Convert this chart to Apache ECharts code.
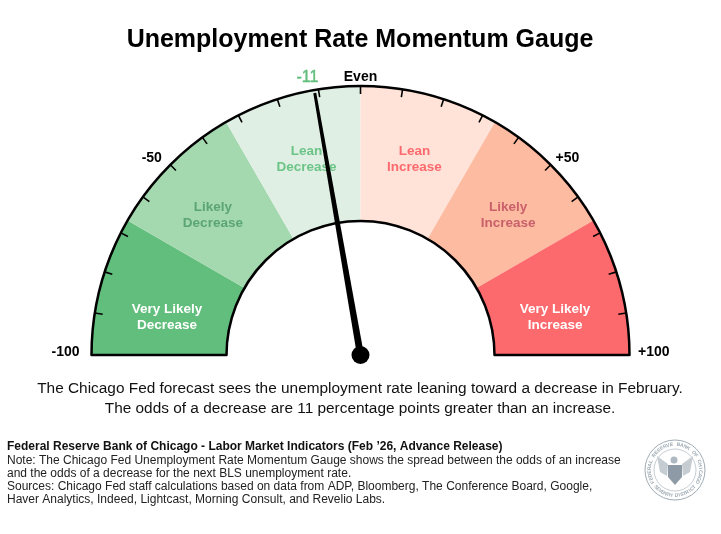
<!DOCTYPE html>
<html><head><meta charset="utf-8">
<style>html,body{margin:0;padding:0;background:#fff}#c{width:721px;height:534px}</style>
<script src="https://cdn.jsdelivr.net/npm/echarts@6/dist/echarts.min.js"></script>
</head><body><div id="c"></div>
<script>
const chartTitle = 'Unemployment Rate Momentum Gauge';
const gaugeValue = -11;
const axisMin = -100, axisMax = 100;
const bandNames = ['Very Likely\nDecrease','Likely\nDecrease','Lean\nDecrease','Lean\nIncrease','Likely\nIncrease','Very Likely\nIncrease'];
const bandWidths = [33.33,33.33,33.34,33.33,33.33,33.34];
const bandColors = ['#62BE7C','#A4D8AE','#DFEFE3','#FFE3D8','#FDBBA1','#FC6A6E'];
const bandTextColors = ['#FFFFFF','#5BA574','#6CC487','#FC6A6E','#C9606A','#FFFFFF'];
const tickLabels = {'-100':'-100','-50':'-50','0':'Even','50':'+50','100':'+100'};
const summaryLines = ['The Chicago Fed forecast sees the unemployment rate leaning toward a decrease in February.','The odds of a decrease are 11 percentage points greater than an increase.'];
const footHead = 'Federal Reserve Bank of Chicago - Labor Market Indicators (Feb \u201926, Advance Release)';
const footLines = ['Note: The Chicago Fed Unemployment Rate Momentum Gauge shows the spread between the odds of an increase','and the odds of a decrease for the next BLS unemployment rate.','Sources: Chicago Fed staff calculations based on data from ADP, Bloomberg, The Conference Board, Google,','Haver Analytics, Indeed, Lightcast, Morning Consult, and Revelio Labs.'];
const sealTop = 'FEDERAL RESERVE BANK OF CHICAGO';
const sealBottom = 'SEVENTH DISTRICT';

const FONT = '"Liberation Sans", Arial, sans-serif';
const C = [360.5, 355], R = 269, r0 = 134;
const labelShift = [[4,15],[-3,5],[-1,2],[1,2],[3,5],[-3,15]];

function labelGauge(keep, dist, extra, pre, post) {
  return {
    type:'gauge', center:C, radius:R, min:axisMin, max:axisMax, startAngle:180, endAngle:0,
    splitNumber:4, z:6, silent:true, animation:false,
    axisLine:{show:false}, axisTick:{show:false}, splitLine:{show:false},
    pointer:{show:false}, title:{show:false}, detail:{show:false}, data:[],
    axisLabel:Object.assign({
      distance:dist, color:'#000', fontFamily:FONT, fontWeight:'bold', fontSize:14,
      formatter:v=> keep.includes(v) ? (pre||'')+tickLabels[String(v)]+(post||'') : ''
    }, extra||{})
  };
}

const SC = [675, 470], SEAL = '#9FABB4';
const sealGraphics = [
  {type:'circle',shape:{cx:SC[0],cy:SC[1],r:30},style:{fill:'none',stroke:SEAL,lineWidth:1}},
  {type:'circle',shape:{cx:SC[0],cy:SC[1],r:21},style:{fill:'none',stroke:SEAL,lineWidth:0.6}},
  {type:'polygon',shape:{points:[[SC[0]-7,SC[1]-5],[SC[0]+7,SC[1]-5],[SC[0]+7,SC[1]+7],[SC[0],SC[1]+15],[SC[0]-7,SC[1]+7]]},style:{fill:'#8E9BA6'}},
  {type:'circle',shape:{cx:SC[0]-1,cy:SC[1]-10,r:3.5},style:{fill:'#AEB8C0'}},
  {type:'polygon',shape:{points:[[SC[0]-7,SC[1]-6],[SC[0]-18,SC[1]-14],[SC[0]-15,SC[1]+2],[SC[0]-8,SC[1]+6]]},style:{fill:'#C5CDD3'}},
  {type:'polygon',shape:{points:[[SC[0]+7,SC[1]-6],[SC[0]+18,SC[1]-14],[SC[0]+15,SC[1]+2],[SC[0]+8,SC[1]+6]]},style:{fill:'#C5CDD3'}}
];
function ringText(str, startDeg, endDeg, bottom) {
  const n = str.length;
  for (let i=0;i<n;i++){
    const deg = startDeg + (endDeg-startDeg)*i/(n-1), a = deg*Math.PI/180;
    sealGraphics.push({type:'text',x:SC[0]+25.5*Math.sin(a),y:SC[1]-25.5*Math.cos(a),rotation:bottom?-(deg-180)*Math.PI/180:-a,
      style:{text:str[i],fill:SEAL,font:'bold 5px '+FONT,textAlign:'center',textVerticalAlign:'middle'}});
  }
}
ringText(sealTop,-118,118,false);
ringText(sealBottom,228,132,true);

const option = {
  animation:false,
  backgroundColor:'#fff',
  title:[
    {text:chartTitle,left:355,top:23,textAlign:'center',textStyle:{fontFamily:FONT,fontWeight:'bold',fontSize:25,color:'#000'}},
    {text:summaryLines.join('\n'),left:355,top:374,textAlign:'center',textStyle:{fontFamily:FONT,fontWeight:'normal',fontSize:15.4,lineHeight:20,color:'#111'}},
    {text:footHead,left:2,top:436,textStyle:{fontFamily:FONT,fontWeight:'bold',fontSize:12,color:'#111'}},
    {text:footLines.join('\n'),left:2,top:449,textStyle:{fontFamily:FONT,fontWeight:'normal',fontSize:12,lineHeight:13,color:'#222'}}
  ],
  graphic:sealGraphics,
  series:[
    {type:'pie',center:C,radius:[r0,R],startAngle:180,endAngle:0,z:2,silent:true,animation:false,
     avoidLabelOverlap:false,labelLine:{show:false},
     data:bandNames.map((n,i)=>({name:n,value:bandWidths[i],itemStyle:{color:bandColors[i]},
       label:{color:bandTextColors[i]}})),
     label:{show:true,position:'inside',formatter:'{b}',fontFamily:FONT,fontWeight:'bold',fontSize:13.5,lineHeight:16},
     labelLayout:p=>({dx:labelShift[p.dataIndex][0],dy:labelShift[p.dataIndex][1]})},
    {type:'pie',center:C,radius:[r0,R],startAngle:180,endAngle:0,z:3,silent:true,animation:false,
     label:{show:false},labelLine:{show:false},
     data:[{value:1,itemStyle:{color:'transparent',borderColor:'#000',borderWidth:2.5}}]},
    {type:'gauge',center:C,radius:R,min:axisMin,max:axisMax,startAngle:180,endAngle:0,splitNumber:20,z:5,silent:true,animation:false,
     axisLine:{show:false},axisTick:{show:false},
     splitLine:{show:true,distance:-10,length:8,lineStyle:{color:'#000',width:1.6}},
     axisLabel:{show:false},
     pointer:{show:true,icon:'path://M2 0L5 0L7 100L0 100Z',length:266,width:7,offsetCenter:[0,0],itemStyle:{color:'#000'}},
     anchor:{show:true,showAbove:true,size:18,itemStyle:{color:'#000',borderWidth:0}},
     title:{show:false},
     detail:{show:true,valueAnimation:false,offsetCenter:[-53,-277],formatter:'{value}',color:'#62BE7C',fontFamily:FONT,fontWeight:'normal',fontSize:16,textBorderColor:'#62BE7C',textBorderWidth:0.4},
     data:[{value:gaugeValue}]},
    labelGauge([-50,50],-60.5,{lineHeight:44},'\n',''),
    labelGauge([0],-36),
    labelGauge([-100,100],-60,{lineHeight:5},'','\n')
  ]
};
const chart = echarts.init(document.getElementById('c'),null,{renderer:'canvas'});
chart.setOption(option);
</script></body></html>
